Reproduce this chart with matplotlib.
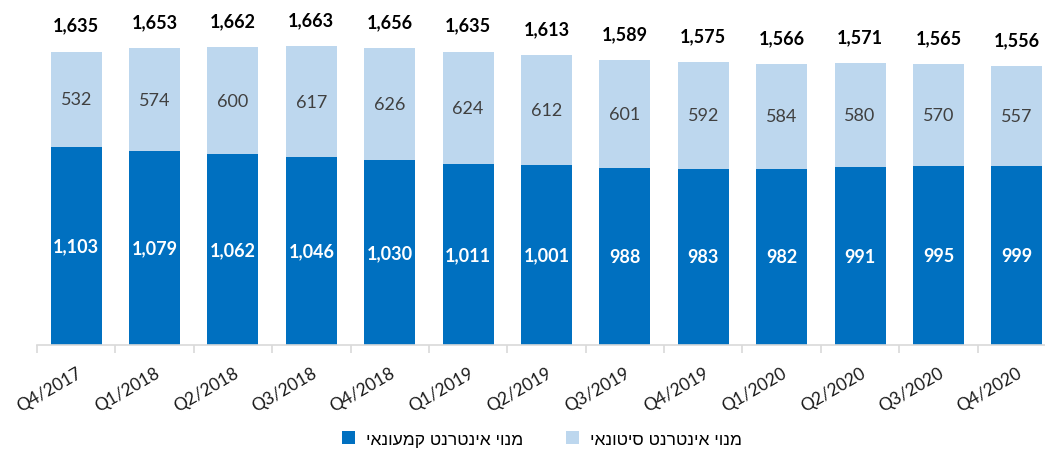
import numpy as np
import matplotlib
matplotlib.use("Agg")
import matplotlib.pyplot as plt

quarters = ["Q4/2017", "Q1/2018", "Q2/2018", "Q3/2018", "Q4/2018", "Q1/2019", "Q2/2019",
            "Q3/2019", "Q4/2019", "Q1/2020", "Q2/2020", "Q3/2020", "Q4/2020"]
retail = [1103, 1079, 1062, 1046, 1030, 1011, 1001, 988, 983, 982, 991, 995, 999]
wholesale = [532, 574, 600, 617, 626, 624, 612, 601, 592, 584, 580, 570, 557]
totals = [1635, 1653, 1662, 1663, 1656, 1635, 1613, 1589, 1575, 1566, 1571, 1565, 1556]

retail_name = "מנוי אינטרנט קמעונאי"
wholesale_name = "מנוי אינטרנט סיטונאי"

dark = "#0070C0"
light = "#BDD7EE"
num_font = ["Lato", "DejaVu Sans"]
heb_font = ["Liberation Sans", "DejaVu Sans"]

W, H = 1045, 452
fig = plt.figure(figsize=(W / 100, H / 100), dpi=100)
ax = fig.add_axes([37 / W, 1 - 346 / H, 1019 / W, 1800 * 0.1795 / H])

x = np.arange(len(quarters))
b1 = ax.bar(x, retail, width=0.65, color=dark, label=retail_name[::-1])
b2 = ax.bar(x, wholesale, bottom=retail, width=0.65, color=light, label=wholesale_name[::-1])

for i in range(len(x)):
    ax.text(x[i], retail[i] / 2, f"{retail[i]:,}", ha="center", va="center",
            color="white", fontsize=13, fontweight="bold", family=num_font)
    ax.text(x[i], retail[i] + wholesale[i] / 2, f"{wholesale[i]:,}", ha="center", va="center",
            color="#404040", fontsize=13, family=num_font)
    ax.annotate(f"{totals[i]:,}", (x[i], retail[i] + wholesale[i]), xytext=(0, 19),
                textcoords="offset points", ha="center", va="center",
                fontsize=13, fontweight="bold", color="black", family=num_font,
                annotation_clip=False)

ax.set_xlim(-0.5, len(x) - 0.5)
ax.set_ylim(0, 1800)
ax.set_yticks([])
for s in ["top", "right", "left"]:
    ax.spines[s].set_visible(False)
ax.spines["bottom"].set_color("#D9D9D9")
ax.spines["bottom"].set_linewidth(1.2)

ax.set_xticks(x)
ax.set_xticklabels(quarters, rotation=30, ha="right", rotation_mode="anchor",
                   fontsize=12.5, family=num_font, color="#1a1a1a")
ax.tick_params(axis="x", which="major", length=0, pad=14)
ax.set_xticks(np.arange(len(x) + 1) - 0.5, minor=True)
ax.tick_params(axis="x", which="minor", length=6, width=1.2, color="#D9D9D9")

fig.legend(handles=[b1, b2], loc="center", bbox_to_anchor=(542 / W, 1 - 440 / H), ncol=2,
           frameon=False, handlelength=0.75, handleheight=0.75, handletextpad=0.6,
           columnspacing=2.5, prop={"family": heb_font, "size": 12.5})

fig.savefig("out.png", dpi=100)
